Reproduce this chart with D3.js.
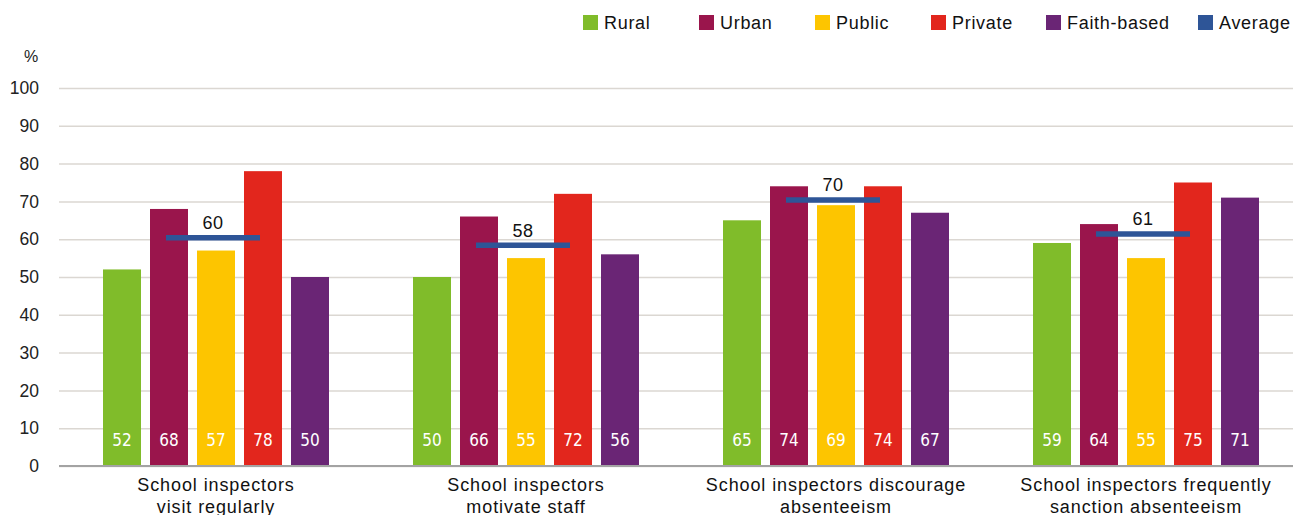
<!DOCTYPE html>
<html>
<head>
<meta charset="utf-8">
<script src="https://cdn.jsdelivr.net/npm/d3@7"></script>
<style>
  html, body { margin: 0; padding: 0; background: #fff; }
  svg { display: block; font-family: "Liberation Sans", Arial, sans-serif; }
</style>
</head>
<body>
<svg id="chart" width="1293" height="515"></svg>
<script>
// Share of respondents agreeing with each statement, by school location / type
const categories = [
  ["School inspectors", "visit regularly"],
  ["School inspectors", "motivate staff"],
  ["School inspectors discourage", "absenteeism"],
  ["School inspectors frequently", "sanction absenteeism"]
];
const seriesNames = ["Rural", "Urban", "Public", "Private", "Faith-based"];
const rural      = [52, 50, 65, 59];
const urban      = [68, 66, 74, 64];
const publicS    = [57, 55, 69, 55];
const privateS   = [78, 72, 74, 75];
const faithBased = [50, 56, 67, 71];
const average    = [60, 58, 70, 61];
const yTicks     = [0, 10, 20, 30, 40, 50, 60, 70, 80, 90, 100];

const colors = {
  "Rural": "#80bc2a",
  "Urban": "#9a154c",
  "Public": "#fdc500",
  "Private": "#e2261d",
  "Faith-based": "#6a2575",
  "Average": "#2e5597"
};

const seriesValues = [rural, urban, publicS, privateS, faithBased];

const svg = d3.select("#chart");
const W = 1293;

const y = d3.scaleLinear().domain([0, 100]).range([466, 88]);
const x0 = d3.scaleBand().domain(d3.range(categories.length)).range([61, 1301]);
const x1 = d3.scaleBand().domain(seriesNames)
  .range([42, x0.bandwidth() - 42])
  .paddingInner(9 / 47).paddingOuter(0);

// gridlines and tick labels
const yAxis = svg.append("g")
  .attr("transform", "translate(59,0)")
  .call(d3.axisLeft(y).tickValues(yTicks).tickSize(-(W - 59)).tickPadding(20));
yAxis.select(".domain").remove();
yAxis.selectAll(".tick line").attr("stroke", "#dbd7d2").attr("stroke-width", 1.5);
yAxis.selectAll(".tick text")
  .attr("fill", "#222").attr("font-size", 17.5)
  .attr("font-family", "'Liberation Sans', Arial, sans-serif");

svg.append("text").attr("x", 31).attr("y", 58).attr("text-anchor", "middle")
  .attr("dominant-baseline", "middle").attr("font-size", 16).attr("fill", "#222").text("%");

// bars
const groups = svg.append("g").selectAll("g")
  .data(categories.map((c, i) => i))
  .join("g")
  .attr("transform", i => `translate(${x0(i)},0)`);

groups.selectAll("rect")
  .data(i => seriesNames.map((s, k) => ({ s, v: seriesValues[k][i] })))
  .join("rect")
  .attr("x", d => x1(d.s))
  .attr("width", x1.bandwidth())
  .attr("y", d => y(d.v))
  .attr("height", d => y(0) - y(d.v))
  .attr("fill", d => colors[d.s]);

groups.selectAll("text.val")
  .data(i => seriesNames.map((s, k) => ({ s, v: seriesValues[k][i] })))
  .join("text")
  .attr("class", "val")
  .attr("x", d => x1(d.s) + x1.bandwidth() / 2)
  .attr("y", y(0) - 26)
  .attr("text-anchor", "middle")
  .attr("dominant-baseline", "central")
  .attr("font-family", "'Liberation Sans Narrow', 'DejaVu Sans Condensed', sans-serif")
  .attr("font-size", 17)
  .attr("fill", "#fff")
  .text(d => d.v);

// average marker spanning Urban to Private
groups.append("line")
  .attr("x1", () => x1("Urban") + x1.bandwidth() / 2 - 3)
  .attr("x2", () => x1("Private") + x1.bandwidth() / 2 - 3)
  .attr("y1", i => y(average[i]) - 1.5)
  .attr("y2", i => y(average[i]) - 1.5)
  .attr("stroke", colors["Average"])
  .attr("stroke-width", 5.5);

groups.append("text")
  .attr("x", () => (x1("Urban") + x1("Private") + x1.bandwidth()) / 2 - 3)
  .attr("y", i => y(average[i]) - 16)
  .attr("text-anchor", "middle")
  .attr("dominant-baseline", "central")
  .attr("font-size", 18)
  .attr("letter-spacing", 0.5)
  .attr("fill", "#111")
  .text(i => average[i]);

// baseline
svg.append("line").attr("x1", 59).attr("x2", W).attr("y1", y(0)).attr("y2", y(0))
  .attr("stroke", "#a3a3a3").attr("stroke-width", 2);

// category labels
groups.append("text")
  .attr("text-anchor", "middle")
  .attr("font-size", 18)
  .attr("letter-spacing", 0.9)
  .attr("fill", "#111")
  .selectAll("tspan")
  .data(i => categories[i])
  .join("tspan")
  .attr("x", x0.bandwidth() / 2)
  .attr("y", (d, k) => 491 + k * 22)
  .text(d => d);

// legend
const legendItems = seriesNames.concat(["Average"]);
const legendX = [583, 699, 815, 931, 1046, 1198];
const legend = svg.append("g").selectAll("g")
  .data(legendItems)
  .join("g")
  .attr("transform", (d, i) => `translate(${legendX[i]},15)`);
legend.append("rect").attr("width", 15).attr("height", 15).attr("fill", d => colors[d]);
legend.append("text").attr("x", 21).attr("y", 8)
  .attr("dominant-baseline", "central")
  .attr("font-size", 18).attr("letter-spacing", 0.7).attr("fill", "#111")
  .text(d => d);
</script>
</body>
</html>
